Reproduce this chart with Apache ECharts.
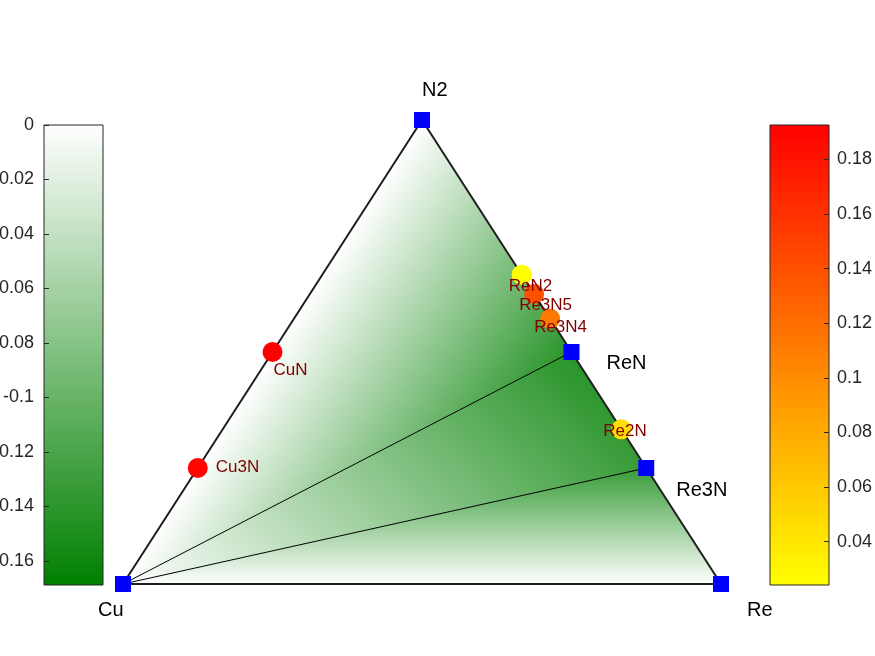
<!DOCTYPE html>
<html><head><meta charset="utf-8">
<script src="https://cdn.jsdelivr.net/npm/echarts@6/dist/echarts.min.js"></script>
<style>html,body{margin:0;padding:0;background:#fff}#c{width:875px;height:656px}</style>
</head><body><div id="c"></div>
<script>
// ---- data ----
const stableNames = ['Cu', 'N2', 'Re', 'ReN', 'Re3N'];
const stableN = [0, 1, 0, 1/2, 1/4];          // N fraction
const stableRe = [0, 0, 1, 1/2, 3/4];         // Re fraction
const stableEnergy = [0, 0, 0, -0.142, -0.132]; // formation energy (eV/atom)
const unstableNames = ['CuN', 'Cu3N', 'ReN2', 'Re3N5', 'Re3N4', 'Re2N'];
const unstableN = [1/2, 1/4, 2/3, 5/8, 4/7, 1/3];
const unstableRe = [0, 0, 1/3, 3/8, 3/7, 2/3];
const unstableEHull = [0.1926, 0.1900, 0.0241, 0.140, 0.113, 0.046];
const facets = [[0, 1, 3], [0, 3, 4], [0, 4, 2]];
const tieLines = [[0, 3], [0, 4]];
const energyRange = [-0.1689, 0];
const hullRange = [0.0241, 0.1926];
const energyTicks = [0, -0.02, -0.04, -0.06, -0.08, -0.1, -0.12, -0.14, -0.16];
const hullTicks = [0.04, 0.06, 0.08, 0.1, 0.12, 0.14, 0.16, 0.18];

// ---- styles (not data) ----
const stableLabelOffsets = [[-25, 26], [0, -30], [26, 26], [35, 11], [30, 22]];
const unstableLabelOffsets = [[1, 18], [18, -1], [-13, 12], [-15, 11], [-16, 8], [-18, 2]];
const FONT = "'Liberation Sans', Arial, Helvetica, sans-serif";
const GREEN_LO = 'rgb(0,128,0)';

function tern(n, re) { return [re + n / 2, n]; }

const chart = echarts.init(document.getElementById('c'), null, {renderer: 'canvas'});

function barItem(range, topColor, bottomColor) {
  return function (params, api) {
    const p0 = api.coord([0, range[1]]);
    const p1 = api.coord([1, range[0]]);
    return {
      type: 'rect',
      shape: {x: p0[0], y: p0[1], width: p1[0] - p0[0], height: p1[1] - p0[1]},
      style: {
        fill: {type: 'linear', x: 0, y: 0, x2: 0, y2: 1,
          colorStops: [{offset: 0, color: topColor}, {offset: 1, color: bottomColor}]},
        stroke: '#262626', lineWidth: 1
      }
    };
  };
}

const fmt = v => String(+(+v).toFixed(4));

function barAxis(grid, range, ticks, pos, margin) {
  return {type: 'value', gridIndex: grid, min: range[0], max: range[1], position: pos, z: 10,
    axisLine: {show: false, onZero: false}, splitLine: {show: false},
    axisTick: {show: true, inside: true, length: 5, customValues: ticks, lineStyle: {color: '#262626'}},
    axisLabel: {show: true, customValues: ticks, formatter: fmt, margin: margin, padding: [4, 0, 0, 0],
      color: '#262626', fontSize: 18, fontFamily: FONT}};
}

const option = {
  animation: false,
  backgroundColor: '#ffffff',
  grid: [
    {left: 123, top: 120, width: 598, height: 464, outerBoundsMode: 'none', containLabel: false},
    {left: 44, top: 125, width: 59, height: 460, outerBoundsMode: 'none', containLabel: false},
    {left: 770, top: 125, width: 59, height: 460, outerBoundsMode: 'none', containLabel: false}
  ],
  xAxis: [
    {type: 'value', gridIndex: 0, min: 0, max: 1, show: false},
    {type: 'value', gridIndex: 1, min: 0, max: 1, show: false},
    {type: 'value', gridIndex: 2, min: 0, max: 1, show: false}
  ],
  yAxis: [
    {type: 'value', gridIndex: 0, min: 0, max: 1, show: false},
    barAxis(1, energyRange, energyTicks, 'left', 10),
    barAxis(2, hullRange, hullTicks, 'right', 8)
  ],
  visualMap: [{
    type: 'continuous', show: false, seriesIndex: 4, dimension: 2,
    min: hullRange[0], max: hullRange[1],
    inRange: {color: ['#ffff00', '#ff0000']}
  }],
  series: [
    // 0: hull facets with linear energy interpolation
    {
      type: 'custom', xAxisIndex: 0, yAxisIndex: 0, z: 1, silent: true,
      data: facets.map((f, i) => [i]),
      renderItem: function (params, api) {
        const f = facets[api.value(0)];
        const P = f.map(k => api.coord(tern(stableN[k], stableRe[k])));
        const V = f.map(k => stableEnergy[k]);
        const ax = P[1][0] - P[0][0], ay = P[1][1] - P[0][1];
        const bx = P[2][0] - P[0][0], by = P[2][1] - P[0][1];
        const dv1 = V[1] - V[0], dv2 = V[2] - V[0];
        const det = ax * by - ay * bx;
        const gx = (dv1 * by - ay * dv2) / det;
        const gy = (ax * dv2 - bx * dv1) / det;
        const gn = Math.hypot(gx, gy);
        let fill = '#ffffff';
        if (gn > 1e-12) {
          const dx = gx / gn, dy = gy / gn;
          const sx = P[0][0] - V[0] / gn * dx, sy = P[0][1] - V[0] / gn * dy;
          const ex = sx + energyRange[0] / gn * dx, ey = sy + energyRange[0] / gn * dy;
          fill = {type: 'linear', x: sx, y: sy, x2: ex, y2: ey, global: true,
            colorStops: [{offset: 0, color: '#ffffff'}, {offset: 1, color: GREEN_LO}]};
        }
        return {type: 'polygon', shape: {points: P}, style: {fill: fill, stroke: fill, lineWidth: 0.6}};
      }
    },
    // 1: outline
    {
      type: 'line', xAxisIndex: 0, yAxisIndex: 0, z: 3, symbol: 'none', silent: true,
      lineStyle: {color: '#1e1e1e', width: 2},
      data: [0, 1, 2, 0].map(k => tern(stableN[k], stableRe[k]))
    },
    // 2, 3: tie lines
    ...tieLines.map(t => ({
      type: 'line', xAxisIndex: 0, yAxisIndex: 0, z: 3, symbol: 'none', silent: true,
      lineStyle: {color: '#000000', width: 1},
      data: t.map(k => tern(stableN[k], stableRe[k]))
    })),
    // 4: unstable phases
    {
      type: 'scatter', xAxisIndex: 0, yAxisIndex: 0, z: 4, symbol: 'circle', symbolSize: 20,
      itemStyle: {opacity: 1},
      data: unstableNames.map((nm, i) => ({
        name: nm,
        value: [...tern(unstableN[i], unstableRe[i]), unstableEHull[i]],
        label: {offset: unstableLabelOffsets[i]}
      })),
      label: {show: true, position: 'inside', align: 'left', verticalAlign: 'middle', formatter: '{b}',
        color: '#800000', fontSize: 17, fontFamily: FONT}
    },
    // 5: stable phases
    {
      type: 'scatter', xAxisIndex: 0, yAxisIndex: 0, z: 5, symbol: 'rect', symbolSize: 16,
      itemStyle: {color: '#0000ff', opacity: 1},
      data: stableNames.map((nm, i) => ({
        name: nm,
        value: tern(stableN[i], stableRe[i]),
        label: {offset: stableLabelOffsets[i]}
      })),
      label: {show: true, position: 'inside', align: 'left', verticalAlign: 'middle', formatter: '{b}',
        color: '#000000', fontSize: 20, fontFamily: FONT}
    },
    // 6, 7: colorbars
    {type: 'custom', xAxisIndex: 1, yAxisIndex: 1, z: 1, silent: true, data: [[0]],
      renderItem: barItem(energyRange, '#ffffff', GREEN_LO)},
    {type: 'custom', xAxisIndex: 2, yAxisIndex: 2, z: 1, silent: true, data: [[0]],
      renderItem: barItem(hullRange, '#ff0000', '#ffff00')}
  ]
};
chart.setOption(option);
</script>
</body></html>
